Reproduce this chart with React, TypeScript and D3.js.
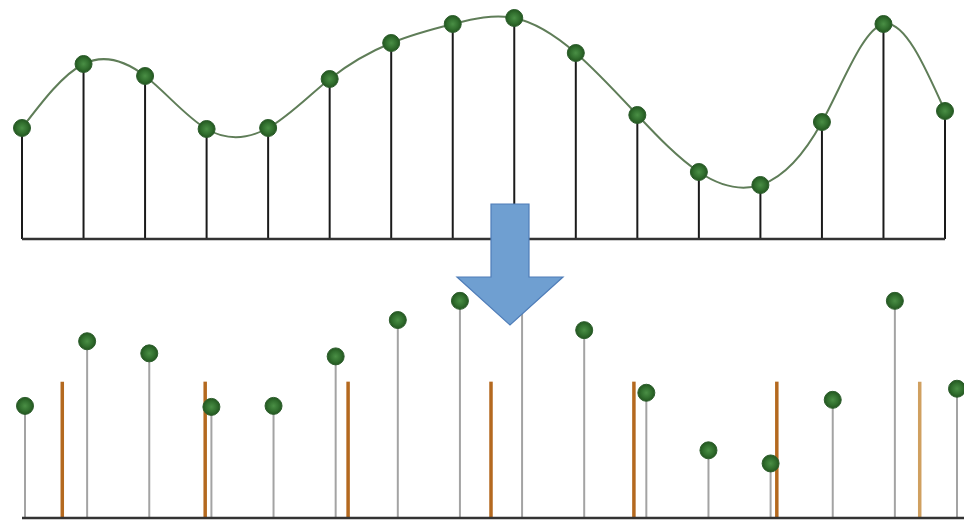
import React from "react";
import * as d3 from "d3";

const indices = d3.range(16);
const values = [111, 175, 163, 110, 111, 160, 196, 215, 221, 186, 124, 67, 54, 117, 215, 128];
const samplePositions = [0.6, 2.9, 5.2, 7.5, 9.8, 12.1, 14.4];
const sampleHeight = 135;

const W = 964;
const H = 520;

export default function App() {
  const xTop = d3.scaleLinear().domain([0, 15]).range([22, 945]);
  const yTop = d3.scaleLinear().domain([0, 100]).range([239, 139]);
  const xBot = d3.scaleLinear().domain([0, 15]).range([25, 957]);
  const yBot = d3.scaleLinear().domain([0, 100]).range([518, 417]);

  const line = d3
    .line<number>()
    .x((_, i) => xTop(i))
    .y((d) => yTop(d))
    .curve(d3.curveNatural);

  const dot = (cx: number, cy: number, key: string) => (
    <circle key={key} cx={cx} cy={cy} r={8.5} fill="url(#dotGrad)" stroke="#2d5e2d" strokeWidth={1} />
  );

  return (
    <svg width={W} height={H} style={{ position: "absolute", left: 0, top: 0, background: "#fff" }}>
      <defs>
        <radialGradient id="dotGrad" cx="50%" cy="50%" r="50%">
          <stop offset="0%" stopColor="#4a8f45" />
          <stop offset="60%" stopColor="#32702f" />
          <stop offset="100%" stopColor="#23561f" />
        </radialGradient>
      </defs>

      {/* Top chart */}
      <path d={line(values) || ""} fill="none" stroke="#5f7d58" strokeWidth={2} />
      {indices.map((i) => (
        <line key={"ts" + i} x1={xTop(i)} x2={xTop(i)} y1={yTop(0)} y2={yTop(values[i])} stroke="#1a1a1a" strokeWidth={2} />
      ))}
      <line x1={xTop(0)} x2={xTop(15)} y1={yTop(0)} y2={yTop(0)} stroke="#333" strokeWidth={2.5} />
      {indices.map((i) => dot(xTop(i), yTop(values[i]), "td" + i))}

      {/* Bottom chart */}
      {indices.map((i) => (
        <line key={"bs" + i} x1={xBot(i)} x2={xBot(i)} y1={yBot(0)} y2={yBot(values[i])} stroke="#a3a3a3" strokeWidth={2} />
      ))}
      {samplePositions.map((p, j) => (
        <line
          key={"sp" + j}
          x1={xBot(p)}
          x2={xBot(p)}
          y1={yBot(0)}
          y2={yBot(sampleHeight)}
          stroke={j === samplePositions.length - 1 ? "#d0a060" : "#b4691f"}
          strokeWidth={3.5}
        />
      ))}
      {indices.map((i) => dot(xBot(i), yBot(values[i]), "bd" + i))}
      <line x1={22} x2={W} y1={yBot(0)} y2={yBot(0)} stroke="#333" strokeWidth={2.5} />

      {/* Arrow */}
      <path
        d="M491,204 L529,204 L529,277 L563,277 L510,325 L457,277 L491,277 Z"
        fill="#6f9fd1"
        stroke="#4f7db8"
        strokeWidth={1.2}
      />
    </svg>
  );
}
